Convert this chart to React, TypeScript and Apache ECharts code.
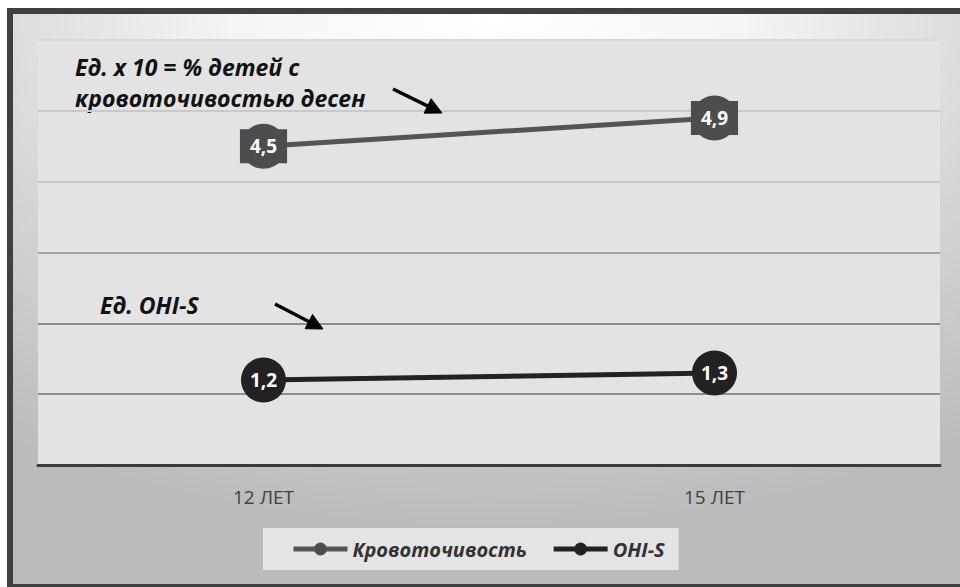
import React, { useEffect, useRef } from "react";
import * as echarts from "echarts";

const categories = ["12 ЛЕТ", "15 ЛЕТ"];
const bleedingValues = [4.5, 4.9];
const ohisValues = [1.2, 1.3];
const seriesNames = ["Кровоточивость", "OHI-S"];
const note1 = ["Ед. x 10 = % детей с", "кровоточивостью десен"];
const note2 = "Ед. OHI-S";

const FONT = "'Open Sans', 'Noto Sans', sans-serif";

export default function App() {
  const ref = useRef<HTMLDivElement>(null);
  useEffect(() => {
    document.body.style.margin = "0";
    document.body.style.overflow = "hidden";
    const chart = echarts.init(ref.current!, null, { renderer: "svg" });
    const band = (x: number, y: number, width: number, height: number) => ({
      type: "rect",
      z: -8,
      silent: true,
      shape: { x, y, width, height },
      style: { fill: "#404040" },
    });
    const inner = {
      type: "rect",
      z: -9,
      silent: true,
      shape: { x: 13, y: 14, width: 947, height: 570 },
      style: {
        fill: new echarts.graphic.RadialGradient(0.5, 0, 0.9, [
          { offset: 0, color: "#ffffff" },
          { offset: 0.3, color: "#f4f4f4" },
          { offset: 0.65, color: "#d4d4d4" },
          { offset: 1, color: "#bbbbbb" },
        ]),
      },
    };
    const arrow = (x1: number, y1: number, x2: number, y2: number) => {
      const dx = x2 - x1, dy = y2 - y1;
      const len = Math.sqrt(dx * dx + dy * dy);
      const ux = dx / len, uy = dy / len;
      const hl = 16, hw = 8;
      const bx = x2 - ux * hl, by = y2 - uy * hl;
      return [
        {
          type: "line",
          silent: true,
          z: 5,
          shape: { x1, y1, x2: bx + ux * 2, y2: by + uy * 2 },
          style: { stroke: "#000", lineWidth: 3.5 },
        },
        {
          type: "polygon",
          silent: true,
          z: 5,
          shape: {
            points: [
              [x2, y2],
              [bx - uy * hw, by + ux * hw],
              [bx + uy * hw, by - ux * hw],
            ],
          },
          style: { fill: "#000", stroke: "#000", lineWidth: 1 },
        },
      ];
    };
    const noteStyle = {
      fill: "#111",
      fontSize: 23,
      fontWeight: "bold",
      fontStyle: "italic",
      fontFamily: FONT,
    };
    const fmt = (p: any) => String(p.value).replace(".", ",");
    chart.setOption({
      animation: false,
      grid: {
        left: 38,
        right: 20,
        top: 40,
        bottom: 122,
        show: true,
        backgroundColor: "#e3e3e3",
        borderWidth: 0,
      },
      xAxis: {
        type: "category",
        data: categories,
        axisLine: { lineStyle: { color: "#3a3a3a", width: 3 } },
        axisTick: { show: false },
        axisLabel: { color: "#404040", fontSize: 19, fontFamily: FONT, margin: 22 },
      },
      yAxis: {
        type: "value",
        min: 0,
        max: 6,
        interval: 1,
        axisLabel: { show: false },
        axisLine: { show: false },
        axisTick: { show: false },
        splitLine: {
          lineStyle: {
            color: ["#3a3a3a", "#8c8c8c", "#8c8c8c", "#a3a3a3", "#c6c6c6", "#c9c9c9", "#d8d8d8"],
            width: 2,
          },
        },
      },
      legend: {
        bottom: 17,
        left: 263,
        backgroundColor: "#e4e4e4",
        padding: [11, 14, 11, 28],
        itemWidth: 54,
        itemHeight: 16,
        itemGap: 24,
        lineStyle: { width: 5 },
        textStyle: {
          color: "#333",
          fontSize: 20,
          fontWeight: "bold",
          fontStyle: "italic",
          fontFamily: FONT,
        },
        data: seriesNames,
      },
      series: [
        {
          name: seriesNames[0],
          type: "line",
          data: bleedingValues,
          symbol: "circle",
          symbolSize: 45,
          itemStyle: { color: "#4d4d4d" },
          lineStyle: { color: "#555555", width: 5 },
          label: {
            show: true,
            position: "inside",
            formatter: fmt,
            color: "#fff",
            fontSize: 19,
            fontWeight: "bold",
            fontFamily: FONT,
            backgroundColor: "#4d4d4d",
            padding: [8, 10, 7, 10],
          },
        },
        {
          name: seriesNames[1],
          type: "line",
          data: ohisValues,
          symbol: "circle",
          symbolSize: 45,
          itemStyle: { color: "#222222" },
          lineStyle: { color: "#222222", width: 5 },
          label: {
            show: true,
            position: "inside",
            formatter: fmt,
            color: "#fff",
            fontSize: 19,
            fontWeight: "bold",
            fontFamily: FONT,
          },
        },
      ],
      graphic: [
        inner,
        band(7, 8, 953, 6),
        band(7, 8, 6, 579),
        band(7, 584, 953, 3),
        { type: "text", silent: true, x: 75, y: 55, style: { ...noteStyle, text: note1[0] } },
        { type: "text", silent: true, x: 75, y: 86, style: { ...noteStyle, text: note1[1] } },
        { type: "text", silent: true, x: 100, y: 293, style: { ...noteStyle, text: note2 } },
        ...arrow(393, 89, 442, 113),
        ...arrow(275, 304, 323, 329),
      ],
    });
    return () => chart.dispose();
  }, []);
  return <div ref={ref} style={{ width: 960, height: 587 }} />;
}
